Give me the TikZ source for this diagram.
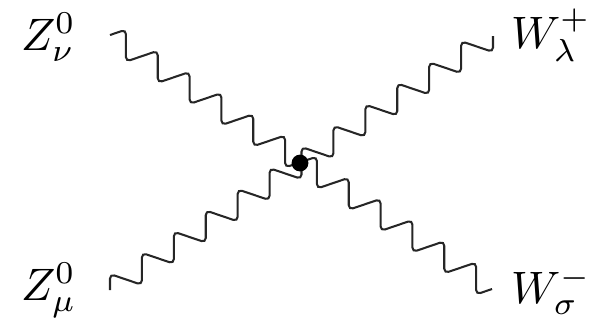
\documentclass[tikz,border=0pt]{standalone}
\usetikzlibrary{calc}
\tikzset{
  wave/.style={draw=black!85, line width=0.45pt, rounded corners=1pt},
  lab/.style={anchor=base west, inner sep=0pt, outer sep=0pt},
  vtx/.style={circle, fill=black, inner sep=0pt, minimum size=3.7pt}
}
\begin{document}
\begin{tikzpicture}[x=0.22pt, y=-0.22pt]
  \useasboundingbox (0,0) rectangle (605,322);
  % end points of the two boson lines
  \coordinate (a1) at (110,35);
  \coordinate (b1) at (492,289);
  \coordinate (a2) at (110,290);
  \coordinate (b2) at (493,36);
  % line Z_nu -> W_sigma
  \path[wave] (a1)
    foreach \k in {0,...,11} {
      -- ($(a1)!{(\k+0.5)/12}!(b1)+(0,-16)$)
      -- ($(a1)!{(\k+0.5)/12}!(b1)+(0,16)$)
    } -- (b1);
  % line Z_mu -> W_lambda
  \path[wave] (a2) -- ($(a2)+(0,-16)$)
    foreach \k in {1,...,11} {
      -- ($(a2)!{\k/12}!(b2)+(0,16)$)
      -- ($(a2)!{\k/12}!(b2)+(0,-16)$)
    } -- ($(b2)+(0,16)$) -- (b2);
  % vertex
  \node[vtx] (v) at (300,163) {};
  % labels
  \node[lab] (zn) at (21,50) {$Z^0_\nu$};
  \node[lab] (zm) at (21,300) {$Z^0_\mu$};
  \node[lab] (wl) at (511,48) {$W^+_\lambda$};
  \node[lab] (ws) at (511,303) {$W^-_\sigma$};
\end{tikzpicture}
\end{document}
